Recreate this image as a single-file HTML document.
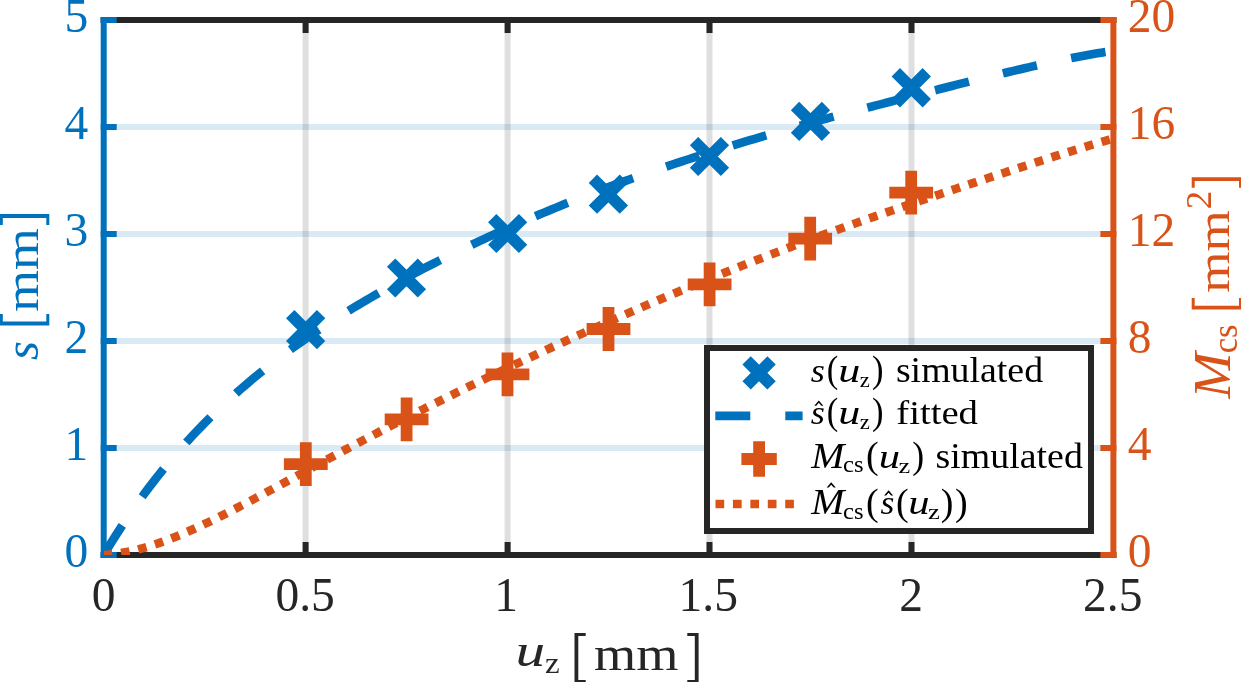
<!DOCTYPE html>
<html><head><meta charset="utf-8"><title>chart</title>
<style>
html,body{margin:0;padding:0;background:#fff;}
body{width:1241px;height:682px;overflow:hidden;}
svg{display:block;will-change:transform;}
text{font-family:"Liberation Serif",serif;}
.i{font-style:italic;}
</style></head><body>
<svg width="1241" height="682" viewBox="0 0 1241 682">
<rect x="0" y="0" width="1241" height="682" fill="#fff"/>
<defs><clipPath id="ax"><rect x="103.7" y="20.0" width="1009.7" height="535.0"/></clipPath></defs>

<g stroke-width="6" fill="none">
<line x1="103.7" x2="1113.4" y1="448.0" y2="448.0" stroke="#0072BD" stroke-opacity="0.15"/>
<line x1="103.7" x2="1113.4" y1="341.0" y2="341.0" stroke="#0072BD" stroke-opacity="0.15"/>
<line x1="103.7" x2="1113.4" y1="234.0" y2="234.0" stroke="#0072BD" stroke-opacity="0.15"/>
<line x1="103.7" x2="1113.4" y1="127.0" y2="127.0" stroke="#0072BD" stroke-opacity="0.15"/>
<line x1="305.6" x2="305.6" y1="20.0" y2="555.0" stroke="#262626" stroke-opacity="0.15"/>
<line x1="507.6" x2="507.6" y1="20.0" y2="555.0" stroke="#262626" stroke-opacity="0.15"/>
<line x1="709.5" x2="709.5" y1="20.0" y2="555.0" stroke="#262626" stroke-opacity="0.15"/>
<line x1="911.5" x2="911.5" y1="20.0" y2="555.0" stroke="#262626" stroke-opacity="0.15"/>
</g>
<g stroke="#262626" stroke-width="6.0" fill="none">
<line x1="100.7" x2="1116.4" y1="20.0" y2="20.0"/>
<line x1="100.7" x2="1116.4" y1="555.0" y2="555.0"/>
<line x1="305.6" x2="305.6" y1="555.0" y2="542.0"/>
<line x1="305.6" x2="305.6" y1="20.0" y2="33.0"/>
<line x1="507.6" x2="507.6" y1="555.0" y2="542.0"/>
<line x1="507.6" x2="507.6" y1="20.0" y2="33.0"/>
<line x1="709.5" x2="709.5" y1="555.0" y2="542.0"/>
<line x1="709.5" x2="709.5" y1="20.0" y2="33.0"/>
<line x1="911.5" x2="911.5" y1="555.0" y2="542.0"/>
<line x1="911.5" x2="911.5" y1="20.0" y2="33.0"/>
</g>
<g stroke="#0072BD" stroke-width="6.0" fill="none">
<line x1="103.7" x2="103.7" y1="17.0" y2="558.0"/>
<line x1="100.7" x2="116.7" y1="555.0" y2="555.0"/>
<line x1="100.7" x2="116.7" y1="448.0" y2="448.0"/>
<line x1="100.7" x2="116.7" y1="341.0" y2="341.0"/>
<line x1="100.7" x2="116.7" y1="234.0" y2="234.0"/>
<line x1="100.7" x2="116.7" y1="127.0" y2="127.0"/>
<line x1="100.7" x2="116.7" y1="20.0" y2="20.0"/>
</g>
<g stroke="#D95319" stroke-width="6.0" fill="none">
<line x1="1113.4" x2="1113.4" y1="17.0" y2="558.0"/>
<line x1="1116.4" x2="1100.4" y1="555.0" y2="555.0"/>
<line x1="1116.4" x2="1100.4" y1="448.0" y2="448.0"/>
<line x1="1116.4" x2="1100.4" y1="341.0" y2="341.0"/>
<line x1="1116.4" x2="1100.4" y1="234.0" y2="234.0"/>
<line x1="1116.4" x2="1100.4" y1="127.0" y2="127.0"/>
<line x1="1116.4" x2="1100.4" y1="20.0" y2="20.0"/>
</g>
<g clip-path="url(#ax)" fill="none">
<path d="M290.2,314.2L321.1,345.1M290.2,345.1L321.1,314.2" stroke="#0072BD" stroke-width="11.8"/>
<path d="M391.1,262.6L421.9,293.4M391.1,293.4L421.9,262.6" stroke="#0072BD" stroke-width="11.8"/>
<path d="M492.2,218.1L523.1,248.9M492.2,248.9L523.1,218.1" stroke="#0072BD" stroke-width="11.8"/>
<path d="M592.9,178.8L623.9,209.6M592.9,209.6L623.9,178.8" stroke="#0072BD" stroke-width="11.8"/>
<path d="M694.0,141.1L725.0,171.9M694.0,171.9L725.0,141.1" stroke="#0072BD" stroke-width="11.8"/>
<path d="M795.0,106.0L826.0,136.9M795.0,136.9L826.0,106.0" stroke="#0072BD" stroke-width="11.8"/>
<path d="M895.8,72.3L926.8,103.2M895.8,103.2L926.8,72.3" stroke="#0072BD" stroke-width="11.8"/>
<path d="M103.70,555.00 L107.74,548.30 L111.78,541.75 L115.82,535.34 L119.86,529.07 L123.89,522.92 L127.93,516.91 L131.97,511.02 L136.01,505.26 L140.05,499.61 L144.09,494.08 L148.13,488.66 L152.17,483.35 L156.20,478.15 L160.24,473.05 L164.28,468.05 L168.32,463.15 L172.36,458.35 L176.40,453.64 L180.44,449.02 L184.48,444.48 L188.51,440.03 L192.55,435.66 L196.59,431.38 L200.63,427.17 L204.67,423.03 L208.71,418.97 L212.75,414.98 L216.79,411.06 L220.83,407.21 L224.86,403.42 L228.90,399.70 L232.94,396.04 L236.98,392.43 L241.02,388.89 L245.06,385.40 L249.10,381.97 L253.14,378.58 L257.17,375.25 L261.21,371.97 L265.25,368.74 L269.29,365.56 L273.33,362.42 L277.37,359.33 L281.41,356.27 L285.45,353.27 L289.48,350.30 L293.52,347.37 L297.56,344.47 L301.60,341.62 L305.64,338.80 L309.68,336.02 L313.72,333.27 L317.76,330.55 L321.80,327.87 L325.83,325.21 L329.87,322.59 L333.91,320.00 L337.95,317.43 L341.99,314.90 L346.03,312.39 L350.07,309.90 L354.11,307.44 L358.14,305.01 L362.18,302.60 L366.22,300.22 L370.26,297.85 L374.30,295.52 L378.34,293.20 L382.38,290.90 L386.42,288.63 L390.45,286.37 L394.49,284.14 L398.53,281.92 L402.57,279.73 L406.61,277.55 L410.65,275.39 L414.69,273.25 L418.73,271.12 L422.77,269.02 L426.80,266.93 L430.84,264.85 L434.88,262.80 L438.92,260.76 L442.96,258.73 L447.00,256.72 L451.04,254.73 L455.08,252.75 L459.11,250.78 L463.15,248.83 L467.19,246.90 L471.23,244.97 L475.27,243.07 L479.31,241.17 L483.35,239.29 L487.39,237.42 L491.42,235.57 L495.46,233.73 L499.50,231.90 L503.54,230.08 L507.58,228.28 L511.62,226.49 L515.66,224.72 L519.70,222.95 L523.74,221.20 L527.77,219.46 L531.81,217.73 L535.85,216.01 L539.89,214.31 L543.93,212.62 L547.97,210.94 L552.01,209.27 L556.05,207.61 L560.08,205.97 L564.12,204.33 L568.16,202.71 L572.20,201.10 L576.24,199.50 L580.28,197.91 L584.32,196.33 L588.36,194.76 L592.39,193.21 L596.43,191.66 L600.47,190.13 L604.51,188.61 L608.55,187.09 L612.59,185.59 L616.63,184.10 L620.67,182.62 L624.71,181.15 L628.74,179.69 L632.78,178.24 L636.82,176.80 L640.86,175.37 L644.90,173.95 L648.94,172.54 L652.98,171.14 L657.02,169.75 L661.05,168.37 L665.09,167.00 L669.13,165.64 L673.17,164.28 L677.21,162.94 L681.25,161.61 L685.29,160.28 L689.33,158.97 L693.36,157.66 L697.40,156.36 L701.44,155.07 L705.48,153.79 L709.52,152.52 L713.56,151.25 L717.60,149.99 L721.64,148.74 L725.68,147.50 L729.71,146.27 L733.75,145.04 L737.79,143.82 L741.83,142.61 L745.87,141.41 L749.91,140.21 L753.95,139.02 L757.99,137.83 L762.02,136.66 L766.06,135.49 L770.10,134.32 L774.14,133.16 L778.18,132.01 L782.22,130.86 L786.26,129.72 L790.30,128.58 L794.33,127.45 L798.37,126.32 L802.41,125.20 L806.45,124.08 L810.49,122.97 L814.53,121.86 L818.57,120.76 L822.61,119.66 L826.65,118.56 L830.68,117.47 L834.72,116.38 L838.76,115.30 L842.80,114.22 L846.84,113.14 L850.88,112.06 L854.92,110.99 L858.96,109.92 L862.99,108.86 L867.03,107.79 L871.07,106.73 L875.11,105.68 L879.15,104.62 L883.19,103.57 L887.23,102.52 L891.27,101.47 L895.30,100.42 L899.34,99.37 L903.38,98.33 L907.42,97.29 L911.46,96.25 L915.50,95.21 L919.54,94.18 L923.58,93.15 L927.62,92.11 L931.65,91.08 L935.69,90.06 L939.73,89.03 L943.77,88.01 L947.81,86.99 L951.85,85.97 L955.89,84.95 L959.93,83.94 L963.96,82.93 L968.00,81.92 L972.04,80.92 L976.08,79.91 L980.12,78.92 L984.16,77.92 L988.20,76.93 L992.24,75.94 L996.27,74.96 L1000.31,73.99 L1004.35,73.02 L1008.39,72.05 L1012.43,71.09 L1016.47,70.14 L1020.51,69.19 L1024.55,68.25 L1028.59,67.32 L1032.62,66.40 L1036.66,65.48 L1040.70,64.58 L1044.74,63.68 L1048.78,62.80 L1052.82,61.93 L1056.86,61.07 L1060.90,60.22 L1064.93,59.39 L1068.97,58.57 L1073.01,57.76 L1077.05,56.97 L1081.09,56.20 L1085.13,55.45 L1089.17,54.72 L1093.21,54.00 L1097.24,53.31 L1101.28,52.64 L1105.32,51.99 L1109.36,51.37 L1113.40,50.77" stroke="#0072BD" stroke-width="8.6" stroke-dasharray="34.95 34.95"/>
<path d="M283.9,464.2L327.7,464.2M305.8,442.3L305.8,486.1" stroke="#D95319" stroke-width="11.8"/>
<path d="M384.7,419.4L428.5,419.4M406.6,397.5L406.6,441.3" stroke="#D95319" stroke-width="11.8"/>
<path d="M485.6,374.4L529.4,374.4M507.5,352.5L507.5,396.3" stroke="#D95319" stroke-width="11.8"/>
<path d="M586.6,329.0L630.4,329.0M608.5,307.1L608.5,350.9" stroke="#D95319" stroke-width="11.8"/>
<path d="M687.7,284.3L731.5,284.3M709.6,262.4L709.6,306.2" stroke="#D95319" stroke-width="11.8"/>
<path d="M788.3,238.6L832.1,238.6M810.2,216.7L810.2,260.5" stroke="#D95319" stroke-width="11.8"/>
<path d="M889.3,192.7L933.1,192.7M911.2,170.8L911.2,214.6" stroke="#D95319" stroke-width="11.8"/>
<path d="M103.70,555.00 L107.74,554.73 L111.78,554.35 L115.82,553.86 L119.86,553.27 L123.89,552.57 L127.93,551.79 L131.97,550.91 L136.01,549.94 L140.05,548.90 L144.09,547.77 L148.13,546.57 L152.17,545.30 L156.20,543.97 L160.24,542.57 L164.28,541.12 L168.32,539.60 L172.36,538.04 L176.40,536.42 L180.44,534.76 L184.48,533.05 L188.51,531.30 L192.55,529.51 L196.59,527.68 L200.63,525.82 L204.67,523.93 L208.71,522.01 L212.75,520.06 L216.79,518.08 L220.83,516.08 L224.86,514.06 L228.90,512.02 L232.94,509.96 L236.98,507.88 L241.02,505.79 L245.06,503.68 L249.10,501.56 L253.14,499.43 L257.17,497.29 L261.21,495.14 L265.25,492.98 L269.29,490.81 L273.33,488.64 L277.37,486.46 L281.41,484.28 L285.45,482.10 L289.48,479.91 L293.52,477.73 L297.56,475.54 L301.60,473.35 L305.64,471.16 L309.68,468.97 L313.72,466.79 L317.76,464.60 L321.80,462.42 L325.83,460.24 L329.87,458.07 L333.91,455.90 L337.95,453.73 L341.99,451.56 L346.03,449.41 L350.07,447.25 L354.11,445.10 L358.14,442.96 L362.18,440.82 L366.22,438.69 L370.26,436.56 L374.30,434.44 L378.34,432.33 L382.38,430.22 L386.42,428.12 L390.45,426.02 L394.49,423.93 L398.53,421.85 L402.57,419.77 L406.61,417.70 L410.65,415.64 L414.69,413.58 L418.73,411.53 L422.77,409.49 L426.80,407.45 L430.84,405.42 L434.88,403.40 L438.92,401.38 L442.96,399.37 L447.00,397.36 L451.04,395.36 L455.08,393.37 L459.11,391.38 L463.15,389.40 L467.19,387.43 L471.23,385.46 L475.27,383.50 L479.31,381.54 L483.35,379.59 L487.39,377.64 L491.42,375.70 L495.46,373.77 L499.50,371.84 L503.54,369.92 L507.58,368.00 L511.62,366.09 L515.66,364.18 L519.70,362.28 L523.74,360.39 L527.77,358.50 L531.81,356.61 L535.85,354.73 L539.89,352.86 L543.93,350.99 L547.97,349.12 L552.01,347.26 L556.05,345.41 L560.08,343.56 L564.12,341.72 L568.16,339.88 L572.20,338.04 L576.24,336.21 L580.28,334.39 L584.32,332.57 L588.36,330.76 L592.39,328.95 L596.43,327.14 L600.47,325.34 L604.51,323.55 L608.55,321.76 L612.59,319.98 L616.63,318.20 L620.67,316.43 L624.71,314.66 L628.74,312.90 L632.78,311.14 L636.82,309.39 L640.86,307.64 L644.90,305.90 L648.94,304.16 L652.98,302.43 L657.02,300.71 L661.05,298.99 L665.09,297.28 L669.13,295.57 L673.17,293.87 L677.21,292.17 L681.25,290.48 L685.29,288.79 L689.33,287.12 L693.36,285.44 L697.40,283.77 L701.44,282.11 L705.48,280.46 L709.52,278.81 L713.56,277.17 L717.60,275.53 L721.64,273.90 L725.68,272.27 L729.71,270.65 L733.75,269.04 L737.79,267.43 L741.83,265.83 L745.87,264.24 L749.91,262.65 L753.95,261.07 L757.99,259.50 L762.02,257.93 L766.06,256.36 L770.10,254.81 L774.14,253.26 L778.18,251.71 L782.22,250.17 L786.26,248.64 L790.30,247.11 L794.33,245.59 L798.37,244.08 L802.41,242.57 L806.45,241.07 L810.49,239.57 L814.53,238.08 L818.57,236.60 L822.61,235.12 L826.65,233.64 L830.68,232.18 L834.72,230.71 L838.76,229.25 L842.80,227.80 L846.84,226.36 L850.88,224.91 L854.92,223.48 L858.96,222.04 L862.99,220.61 L867.03,219.19 L871.07,217.77 L875.11,216.36 L879.15,214.95 L883.19,213.54 L887.23,212.14 L891.27,210.74 L895.30,209.35 L899.34,207.95 L903.38,206.57 L907.42,205.18 L911.46,203.80 L915.50,202.42 L919.54,201.05 L923.58,199.68 L927.62,198.31 L931.65,196.94 L935.69,195.58 L939.73,194.22 L943.77,192.86 L947.81,191.50 L951.85,190.14 L955.89,188.79 L959.93,187.44 L963.96,186.09 L968.00,184.74 L972.04,183.40 L976.08,182.06 L980.12,180.71 L984.16,179.38 L988.20,178.04 L992.24,176.70 L996.27,175.37 L1000.31,174.04 L1004.35,172.71 L1008.39,171.38 L1012.43,170.05 L1016.47,168.73 L1020.51,167.41 L1024.55,166.09 L1028.59,164.78 L1032.62,163.46 L1036.66,162.16 L1040.70,160.85 L1044.74,159.55 L1048.78,158.25 L1052.82,156.96 L1056.86,155.68 L1060.90,154.40 L1064.93,153.13 L1068.97,151.86 L1073.01,150.60 L1077.05,149.35 L1081.09,148.11 L1085.13,146.87 L1089.17,145.65 L1093.21,144.44 L1097.24,143.24 L1101.28,142.06 L1105.32,140.89 L1109.36,139.73 L1113.40,138.59" stroke="#D95319" stroke-width="8.6" stroke-dasharray="8.7 8.77"/>
</g>
<rect x="707" y="348" width="384" height="183" fill="#fff" stroke="#262626" stroke-width="6"/>
<path d="M746.6,360.4L771.6,385.4M746.6,385.4L771.6,360.4" stroke="#0072BD" stroke-width="11.8" fill="none"/>
<path d="M715.3,415.8L802.6,415.8" stroke="#0072BD" stroke-width="8.7" stroke-dasharray="35 35" fill="none"/>
<path d="M741.4,459.0L776.8,459.0M759.1,441.3L759.1,476.7" stroke="#D95319" stroke-width="11.8" fill="none"/>
<path d="M715.5,504.0L802.6,504.0" stroke="#D95319" stroke-width="8.7" stroke-dasharray="8.7 8.73" fill="none"/>
<text x="88.3" y="567.0" font-size="47.5" fill="#0072BD" text-anchor="end">0</text>
<text x="88.3" y="460.0" font-size="47.5" fill="#0072BD" text-anchor="end">1</text>
<text x="88.3" y="353.0" font-size="47.5" fill="#0072BD" text-anchor="end">2</text>
<text x="88.3" y="246.0" font-size="47.5" fill="#0072BD" text-anchor="end">3</text>
<text x="88.3" y="139.0" font-size="47.5" fill="#0072BD" text-anchor="end">4</text>
<text x="88.3" y="32.0" font-size="47.5" fill="#0072BD" text-anchor="end">5</text>
<text x="1127.7" y="566.9" font-size="47.5" fill="#D95319" text-anchor="start">0</text>
<text x="1127.7" y="459.9" font-size="47.5" fill="#D95319" text-anchor="start">4</text>
<text x="1127.7" y="352.9" font-size="47.5" fill="#D95319" text-anchor="start">8</text>
<text x="1127.7" y="245.9" font-size="47.5" fill="#D95319" text-anchor="start">12</text>
<text x="1127.7" y="138.9" font-size="47.5" fill="#D95319" text-anchor="start">16</text>
<text x="1127.7" y="31.9" font-size="47.5" fill="#D95319" text-anchor="start">20</text>
<text x="103.7" y="611.2" font-size="47.5" fill="#262626" text-anchor="middle">0</text>
<text x="305.1" y="611.2" font-size="47.5" fill="#262626" text-anchor="middle">0.5</text>
<text x="506.2" y="611.2" font-size="47.5" fill="#262626" text-anchor="middle">1</text>
<text x="708.3" y="611.2" font-size="47.5" fill="#262626" text-anchor="middle">1.5</text>
<text x="911.2" y="611.2" font-size="47.5" fill="#262626" text-anchor="middle">2</text>
<text x="1112.8" y="611.2" font-size="47.5" fill="#262626" text-anchor="middle">2.5</text>
<text transform="translate(515.44,666.01) scale(1.2349,0.9877)" font-size="48" fill="#262626" font-style="italic">u</text>
<text transform="translate(544.89,673.40) scale(1.0656,0.9818)" font-size="31" fill="#262626">z</text>
<path d="M574.5,633.0H585.7V636.0H578.3V680.0H585.7V683.0H574.5Z" fill="#262626"/>
<text transform="translate(594.01,670.30) scale(1.1308,0.9973)" font-size="48" fill="#262626">mm</text>
<path d="M698.6,633.0H687.3V636.0H694.8000000000001V680.0H687.3V683.0H698.6Z" fill="#262626"/>
<g transform="translate(38.1,359.3) rotate(-90)"><text transform="translate(-0.61,-0.08) scale(1.0132,1.0026)" font-size="48" fill="#0072BD" font-style="italic">s</text><path d="M33.9,-38.3H45.3V-35.3H37.699999999999996V8.2H45.3V11.2H33.9Z" fill="#0072BD"/><text transform="translate(47.52,0.00) scale(1.1225,1.0151)" font-size="48" fill="#0072BD">mm</text><path d="M145.2,-38.3H134.3V-35.3H141.39999999999998V8.2H134.3V11.2H145.2Z" fill="#0072BD"/></g>
<g transform="translate(1229.5,399.1) rotate(-90)"><text transform="translate(0.69,0.30) scale(1.1092,1.0382)" font-size="50" fill="#D95319" font-style="italic">M</text><text transform="translate(45.80,7.55) scale(1.0178,1.0417)" font-size="34" fill="#D95319">cs</text><path d="M89.6,-37.8H101.0V-34.8H93.39999999999999V9.5H101.0V12.5H89.6Z" fill="#D95319"/><text transform="translate(106.24,-0.50) scale(1.1075,0.9885)" font-size="48" fill="#D95319">mm</text><text transform="translate(189.93,-18.80) scale(1.0888,1.0300)" font-size="34" fill="#D95319">2</text><path d="M221.8,-37.8H211.3V-34.8H218.0V9.5H211.3V12.5H221.8Z" fill="#D95319"/></g>
<text transform="translate(810.75,381.86) scale(1.0360,0.9762)" font-size="35" fill="#000" font-style="italic">s</text>
<text transform="translate(826.63,382.03) scale(0.9096,1.0120)" font-size="38" fill="#000">(</text>
<text transform="translate(838.30,381.77) scale(1.2599,0.9917)" font-size="35" fill="#000" font-style="italic">u</text>
<text transform="translate(859.78,386.70) scale(0.9462,0.8786)" font-size="24" fill="#000">z</text>
<text transform="translate(872.08,382.03) scale(0.9096,1.0120)" font-size="38" fill="#000">)</text>
<text transform="translate(895.88,381.75) scale(1.0825,1.0010)" font-size="35" fill="#000">simulated</text>
<text transform="translate(810.75,424.26) scale(1.0360,0.9762)" font-size="35" fill="#000" font-style="italic">s</text>
<path d="M814.30,405.70L818.80,400.40L823.30,405.70L821.32,405.70L818.80,402.82L816.28,405.70Z" fill="#000"/>
<text transform="translate(826.63,424.43) scale(0.9096,1.0120)" font-size="38" fill="#000">(</text>
<text transform="translate(838.30,424.17) scale(1.2599,0.9917)" font-size="35" fill="#000" font-style="italic">u</text>
<text transform="translate(859.78,429.10) scale(0.9462,0.8786)" font-size="24" fill="#000">z</text>
<text transform="translate(872.08,424.43) scale(0.9096,1.0120)" font-size="38" fill="#000">)</text>
<text transform="translate(896.24,424.16) scale(1.1069,0.9830)" font-size="35" fill="#000">fitted</text>
<text transform="translate(811.30,467.60) scale(1.1365,1.0207)" font-size="35" fill="#000" font-style="italic">M</text>
<text transform="translate(843.08,472.37) scale(1.0252,0.9549)" font-size="24" fill="#000">cs</text>
<text transform="translate(865.88,468.16) scale(1.0015,1.0207)" font-size="38" fill="#000">(</text>
<text transform="translate(878.77,467.57) scale(1.2186,0.9917)" font-size="35" fill="#000" font-style="italic">u</text>
<text transform="translate(898.38,472.50) scale(1.0968,0.8786)" font-size="24" fill="#000">z</text>
<text transform="translate(912.14,468.16) scale(0.9402,1.0207)" font-size="38" fill="#000">)</text>
<text transform="translate(935.58,467.55) scale(1.0825,1.0010)" font-size="35" fill="#000">simulated</text>
<text transform="translate(811.30,514.20) scale(1.1365,1.0207)" font-size="35" fill="#000" font-style="italic">M</text>
<path d="M826.70,487.60L831.20,482.30L835.70,487.60L833.72,487.60L831.20,484.72L828.68,487.60Z" fill="#000"/>
<text transform="translate(843.08,518.97) scale(1.0252,0.9549)" font-size="24" fill="#000">cs</text>
<text transform="translate(865.88,514.76) scale(1.0015,1.0207)" font-size="38" fill="#000">(</text>
<text transform="translate(880.45,514.26) scale(1.0195,0.9762)" font-size="35" fill="#000" font-style="italic">s</text>
<path d="M884.10,495.60L888.60,490.30L893.10,495.60L891.12,495.60L888.60,492.72L886.08,495.60Z" fill="#000"/>
<text transform="translate(896.08,514.73) scale(1.0015,1.0236)" font-size="38" fill="#000">(</text>
<text transform="translate(908.37,514.17) scale(1.2186,0.9917)" font-size="35" fill="#000" font-style="italic">u</text>
<text transform="translate(927.97,519.10) scale(1.1075,0.8786)" font-size="24" fill="#000">z</text>
<text transform="translate(940.76,514.73) scale(1.0015,1.0236)" font-size="38" fill="#000">)</text>
<text transform="translate(954.96,514.73) scale(1.0015,1.0236)" font-size="38" fill="#000">)</text>
</svg></body></html>
